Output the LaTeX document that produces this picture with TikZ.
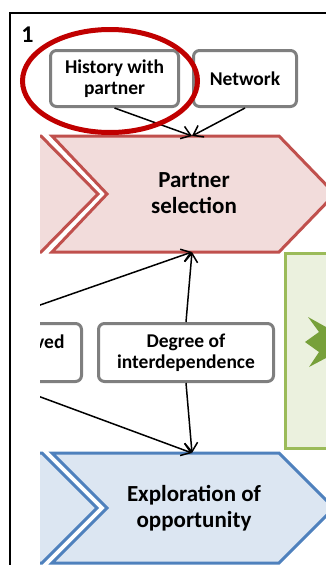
\documentclass[tikz,border=0pt]{standalone}
\usepackage{fontspec}
\setmainfont{Carlito}
\usetikzlibrary{positioning,arrows.meta}
\definecolor{chevred}{HTML}{C0504D}
\definecolor{chevpink}{HTML}{F2DCDB}
\definecolor{chevblue}{HTML}{4F81BD}
\definecolor{chevpale}{HTML}{DCE6F2}
\definecolor{boxgreen}{HTML}{9BBB59}
\definecolor{boxpale}{HTML}{EBF1DE}
\definecolor{stargreen}{HTML}{77A03A}
\definecolor{boxgray}{HTML}{7F7F7F}
\definecolor{ringred}{HTML}{C00000}

\begin{document}
\begin{tikzpicture}[x=1pt,y=-1pt,>={Straight Barb[length=9pt,width=13pt]}]
    \tikzstyle{factor}=[draw=boxgray, line width=3pt, rounded corners=6pt, fill=white, align=center, font=\bfseries\fontsize{19.5}{21}\selectfont, minimum height=56pt, inner sep=2pt]
    \tikzstyle{stage}=[align=center, font=\bfseries\fontsize{23}{26}\selectfont]
    \tikzstyle{redstage}=[draw=chevred, fill=chevpink, line width=3pt, line join=miter]
    \tikzstyle{bluestage}=[draw=chevblue, fill=chevpale, line width=3pt, line join=miter]
    \tikzstyle{link}=[->, line width=1.5pt]
    \useasboundingbox (0,0) rectangle (326,565);

    \draw [line width=1.5pt] (10,565) -- (10,13) -- (326,13);
    \node (num) [font=\bfseries\fontsize{24}{26}\selectfont] at (27.5,35) {1};

    \begin{scope}
    \clip (40,0) rectangle (326,565);

    % partner selection
    \draw [redstage] (-20,136) -- (41,136) -- (98,194) -- (41,252) -- (-20,252) -- cycle;
    \draw [redstage] (52,136) -- (279,136) -- (335,194) -- (279,252) -- (52,252) -- (107,194) -- cycle;
    \node (PS) [stage] at (194,193) {Partner\\selection};
    \coordinate (PStop) at (192,136);
    \coordinate (PSbot) at (192,252);

    % exploration of opportunity
    \draw [bluestage] (-20,453) -- (42,453) -- (97,508) -- (42,563) -- (-20,563) -- cycle;
    \draw [bluestage] (52,453) -- (279,453) -- (334,508) -- (279,563) -- (52,563) -- (107,508) -- cycle;
    \node (EO) [stage] at (194,508) {Exploration of\\opportunity};
    \coordinate (EOtop) at (192,453);

    % green panel
    \draw [draw=boxgreen, fill=boxpale, line width=3pt] (285,253) rectangle (340,448);
    \fill [stargreen] (308,317) -- (326,327) -- (326,358) -- (309,367) -- (319,352) -- (305,342) -- (319,332) -- cycle;

    \node (HW) [factor, minimum width=128pt] at (114.5,78.5) {History with\\partner};
    \node (NW) [factor, minimum width=103pt, right=12pt of HW] {Network};
    \node (DoI) [factor, minimum width=175pt, minimum height=58pt] at (186,352.5) {Degree of\\interdependence};
    \node (PV) [factor, minimum width=130pt, minimum height=58pt, text width=96pt, align=right, left=14pt of DoI] {ved\\\phantom{x}};

    \coordinate (PVup) at (0,319);
    \coordinate (PVdown) at (0,382);

    \draw [link] (HW.south) -- (PStop);
    \draw [link] (NW.south) -- (PStop);
    \draw [link] (DoI.north) -- (PSbot);
    \draw [link] (PVup) -- (PSbot);
    \draw [link] (DoI.south) -- (EOtop);
    \draw [link] (PVdown) -- (EOtop);
    \end{scope}

    \draw [draw=ringred, line width=5pt] (110,81) ellipse [x radius=87.5, y radius=51.5];
\end{tikzpicture}
\end{document}
